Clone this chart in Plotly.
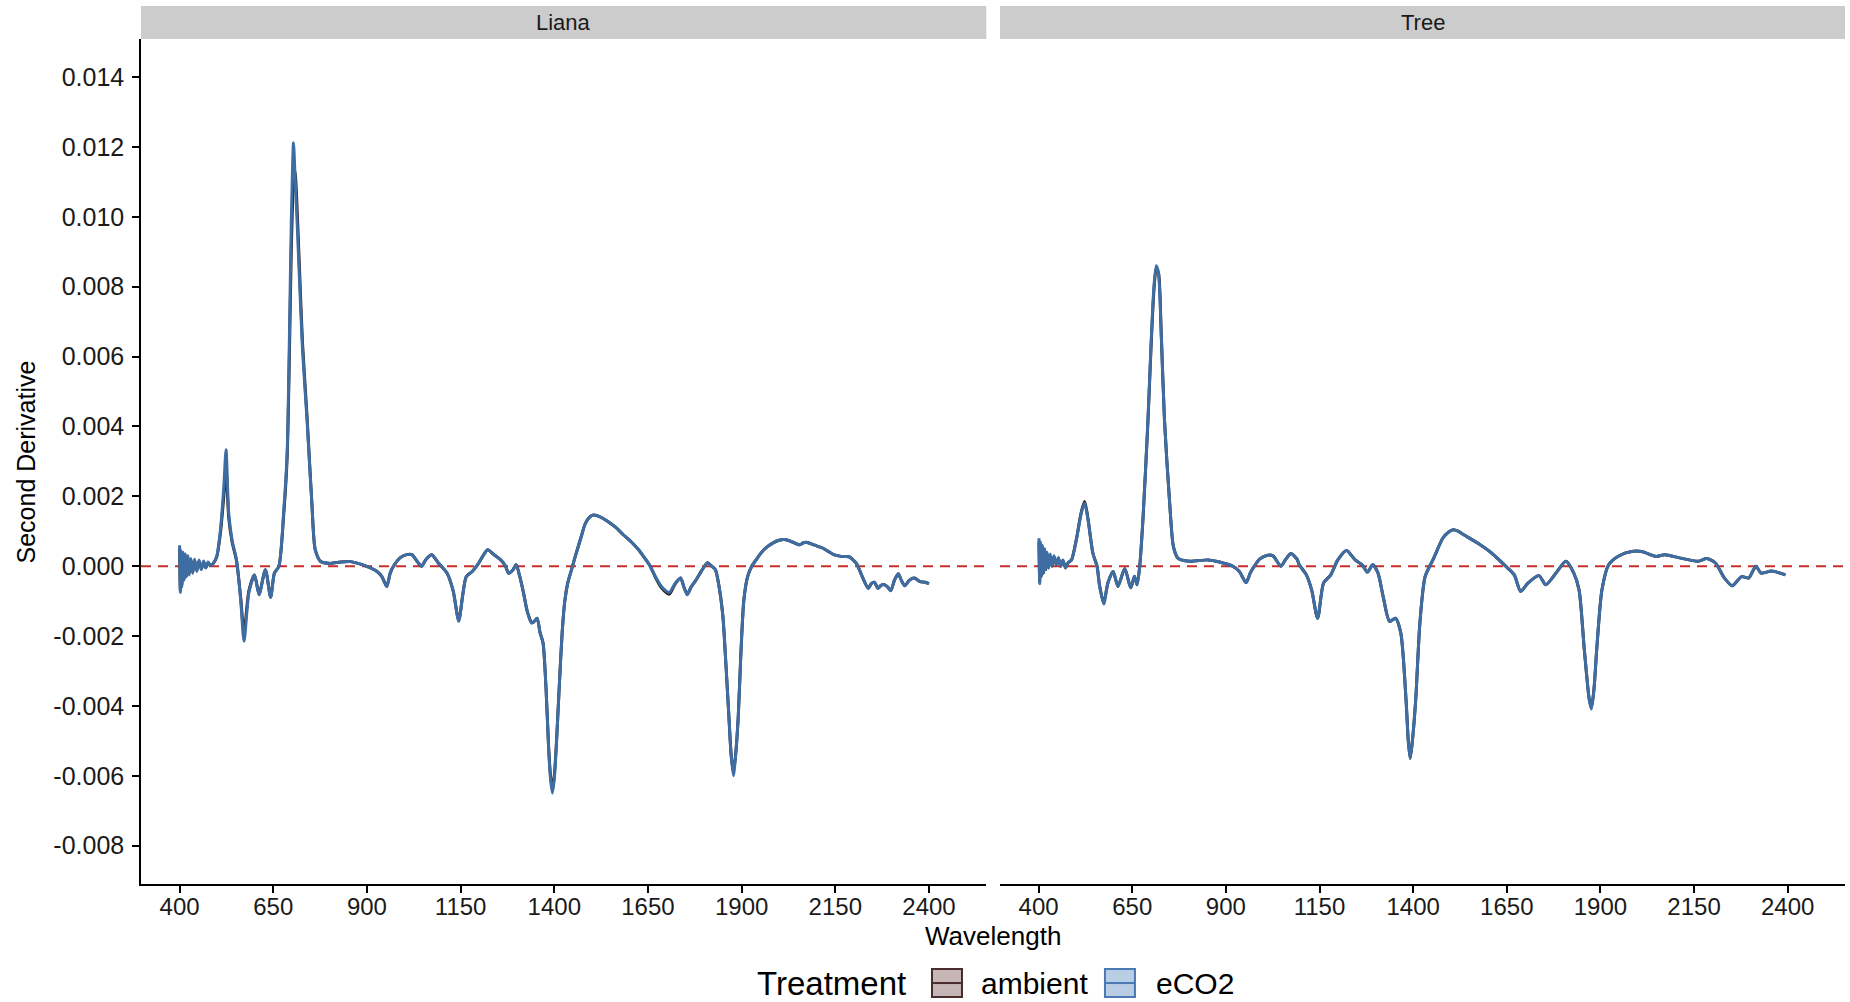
import plotly.graph_objects as go

# ---------------- data ----------------
liana_wl = [400, 402, 404, 406, 409, 412, 415, 418, 422, 426, 430, 435, 440, 446, 452, 458, 464, 470, 476, 482,
            490, 499, 509, 518, 524, 531, 540, 552, 563, 572, 585, 600, 612, 629, 643, 653, 665, 678, 687, 693,
            698, 704, 708, 713, 720, 728, 740, 753, 762, 776, 802, 830, 856, 891, 927, 940, 953, 962, 971, 990,
            1006, 1020, 1035, 1046, 1058, 1073, 1090, 1114, 1130, 1145, 1156, 1165, 1181, 1196, 1210, 1222, 1240, 1257, 1270, 1278,
            1290, 1298, 1308, 1318, 1328, 1339, 1345, 1354, 1362, 1370, 1378, 1385, 1390, 1395, 1400, 1405, 1413, 1421, 1428, 1436,
            1446, 1456, 1472, 1482, 1492, 1503, 1513, 1528, 1543, 1565, 1584, 1605, 1625, 1640, 1656, 1670, 1686, 1707, 1722, 1737,
            1746, 1755, 1765, 1778, 1795, 1809, 1820, 1830, 1840, 1850, 1858, 1866, 1872, 1878, 1884, 1891, 1898, 1906, 1916, 1927,
            1940, 1952, 1968, 1983, 2000, 2014, 2034, 2054, 2065, 2075, 2095, 2116, 2130, 2146, 2166, 2187, 2200, 2208, 2222, 2238,
            2246, 2254, 2264, 2272, 2281, 2290, 2298, 2308, 2318, 2326, 2335, 2348, 2361, 2376, 2390, 2400]

liana_eco2 = [0.0006, -0.00075, 0.00045, -0.0006, 0.0004, -0.0004, 0.00035, -0.0003, 0.0003, -0.00025, 0.00022, -0.0002, 0.0002, -0.00015, 0.00018, -0.0001, 0.00015, -0.00005, 0.00012, 0.00002,
              0.00008, 0.00028, 0.00104, 0.00228, 0.00333, 0.00153, 0.00075, 0.00017, -0.00096, -0.00215, -0.00076, -0.00025, -0.00082, -0.0001, -0.0009, -0.0002, 0.0, 0.0016, 0.00324, 0.0065,
              0.0098, 0.01212, 0.0112, 0.0100, 0.0082, 0.0062, 0.0042, 0.0018, 0.00047, 0.00014, 0.00008, 0.00012, 0.00013, 0.00003, -0.00015, -0.0003, -0.00058, -0.0002, 0.0, 0.00025,
              0.00033, 0.00033, 0.00012, 0.0, 0.0002, 0.00033, 0.0001, -0.0002, -0.0007, -0.00158, -0.0008, -0.0003, -0.00015, 0.00005, 0.0003, 0.00047, 0.00032, 0.00018, 0.0, -0.0002,
              -0.0001, 0.00005, -0.0003, -0.00077, -0.0013, -0.00163, -0.0016, -0.00149, -0.0019, -0.0022, -0.0035, -0.00525, -0.0061, -0.00649, -0.0061, -0.00525, -0.0035, -0.00191, -0.0010, -0.00048,
              -0.0001, 0.00028, 0.00085, 0.0012, 0.00138, 0.00146, 0.00145, 0.00138, 0.00128, 0.0011, 0.0009, 0.0007, 0.00047, 0.00025, 0.0, -0.0003, -0.00058, -0.00075, -0.0005, -0.00034,
              -0.0006, -0.00082, -0.0006, -0.0004, -0.0001, 0.0001, 0.0, -0.0001, -0.0006, -0.00144, -0.0028, -0.0043, -0.0054, -0.0060, -0.0054, -0.0043, -0.0025, -0.00096, -0.0003, 0.0,
              0.0002, 0.00038, 0.00055, 0.00066, 0.00074, 0.00076, 0.0007, 0.00061, 0.00067, 0.00068, 0.0006, 0.00052, 0.00043, 0.00033, 0.00028, 0.00027, 0.00015, 0.00005, -0.0003, -0.00063,
              -0.0005, -0.00046, -0.00063, -0.00055, -0.00053, -0.0006, -0.0007, -0.0004, -0.00022, -0.0004, -0.00056, -0.0004, -0.00034, -0.00044, -0.00046, -0.0005]

liana_ambient = [0.0005, -0.0007, 0.0004, -0.00055, 0.00035, -0.00035, 0.0003, -0.00028, 0.00025, -0.0002, 0.0002, -0.00018, 0.00017, -0.00012, 0.00015, -0.00008, 0.00012, -0.00004, 0.0001, 0.00002,
                 0.00008, 0.00026, 0.00095, 0.0020, 0.0028, 0.0014, 0.0007, 0.00015, -0.0009, -0.0019, -0.0007, -0.00025, -0.0008, -0.0001, -0.00088, -0.0002, 0.0, 0.0015, 0.0031, 0.0060,
                 0.0090, 0.0110, 0.0113, 0.0104, 0.0085, 0.0064, 0.0043, 0.0018, 0.00047, 0.00014, 0.00008, 0.00012, 0.00013, 0.00003, -0.00015, -0.0003, -0.00058, -0.0002, 0.0, 0.00025,
                 0.00033, 0.00033, 0.00012, 0.0, 0.0002, 0.00033, 0.0001, -0.0002, -0.0007, -0.00155, -0.0008, -0.0003, -0.00015, 0.00005, 0.0003, 0.00047, 0.00032, 0.00018, 0.0, -0.0002,
                 -0.0001, 0.00005, -0.0003, -0.00077, -0.0013, -0.0016, -0.0016, -0.00149, -0.0019, -0.0022, -0.0035, -0.0052, -0.0060, -0.0064, -0.0060, -0.0052, -0.0035, -0.0019, -0.0010, -0.00048,
                 -0.0001, 0.00028, 0.00085, 0.0012, 0.00138, 0.00146, 0.00145, 0.00138, 0.00128, 0.0011, 0.0009, 0.0007, 0.00047, 0.00025, 0.0, -0.00032, -0.00062, -0.0008, -0.00052, -0.00034,
                 -0.0006, -0.0008, -0.0006, -0.0004, -0.0001, 0.0001, 0.0, -0.0001, -0.0006, -0.00144, -0.0028, -0.0043, -0.0054, -0.0059, -0.0054, -0.0043, -0.0025, -0.00096, -0.0003, 0.0,
                 0.0002, 0.00038, 0.00055, 0.00066, 0.00074, 0.00076, 0.0007, 0.00061, 0.00067, 0.00068, 0.0006, 0.00052, 0.00043, 0.00033, 0.00028, 0.00027, 0.00015, 0.00005, -0.0003, -0.00063,
                 -0.0005, -0.00046, -0.00063, -0.00055, -0.00053, -0.0006, -0.0007, -0.0004, -0.00022, -0.0004, -0.00056, -0.0004, -0.00034, -0.00044, -0.00046, -0.0005]

tree_wl = [401, 403, 405, 407, 410, 413, 416, 419, 423, 427, 431, 436, 441, 447, 453, 459, 465, 472, 479, 488,
           501, 514, 523, 532, 545, 556, 563, 574, 585, 599, 612, 630, 646, 656, 663, 670, 679, 692, 700, 708,
           714, 720, 727, 736, 750, 760, 772, 803, 852, 883, 918, 936, 954, 965, 976, 990, 1007, 1025, 1047, 1060,
           1074, 1090, 1096, 1115, 1129, 1145, 1161, 1180, 1199, 1222, 1245, 1264, 1278, 1292, 1306, 1320, 1337, 1353, 1367, 1381,
           1387, 1392, 1398, 1407, 1418, 1432, 1455, 1479, 1495, 1507, 1520, 1535, 1572, 1610, 1647, 1670, 1687, 1707, 1736, 1754,
           1782, 1808, 1829, 1843, 1857, 1870, 1876, 1883, 1890, 1904, 1922, 1950, 1983, 2010, 2049, 2072, 2114, 2161, 2184, 2207,
           2231, 2252, 2277, 2296, 2315, 2329, 2357, 2394]

tree_eco2 = [0.0008, -0.0005, 0.0007, -0.0003, 0.0006, -0.0002, 0.0005, -0.0001, 0.0004, -0.00005, 0.00035, 0.0, 0.0003, 0.00005, 0.00025, 0.0, 0.00018, -0.00005, 0.0001, 0.00018,
             0.00076, 0.00152, 0.0018, 0.00133, 0.00037, 0.0, -0.00058, -0.00108, -0.00048, -0.00015, -0.00058, -0.00007, -0.00062, -0.00029, -0.00053, 0.0, 0.00142, 0.00419, 0.0063, 0.0080,
             0.0086, 0.0084, 0.0068, 0.0042, 0.0018, 0.00056, 0.00023, 0.00014, 0.00018, 0.00012, 0.0, -0.00015, -0.00047, -0.0002, 0.0, 0.0002, 0.0003, 0.0003, 0.0, 0.0002,
             0.00036, 0.0002, 0.00004, -0.00025, -0.00068, -0.00149, -0.00048, -0.00025, 0.00018, 0.00045, 0.00018, 0.00004, -0.00017, 0.00004, -0.00019, -0.00087, -0.00158, -0.00149, -0.00191, -0.00382,
             -0.0050, -0.0055, -0.0050, -0.0038, -0.00163, -0.0003, 0.00023, 0.0008, 0.00098, 0.00104, 0.001, 0.0009, 0.00066, 0.00037, 0.0, -0.00025, -0.00072, -0.00048, -0.00027, -0.00053,
             -0.00019, 0.00014, -0.0002, -0.00068, -0.00239, -0.0038, -0.00409, -0.0035, -0.0024, -0.00068, 0.00004, 0.0003, 0.00042, 0.00042, 0.00028, 0.00033, 0.00023, 0.00014, 0.00022, 0.00009,
             -0.00034, -0.00056, -0.0003, -0.00034, 0.0, -0.0002, -0.00014, -0.00025]

tree_ambient = [0.0007, -0.00045, 0.0006, -0.0003, 0.00055, -0.0002, 0.00045, -0.0001, 0.00035, -0.00005, 0.0003, 0.0, 0.00028, 0.00005, 0.00022, 0.0, 0.00016, -0.00005, 0.0001, 0.00018,
                0.00078, 0.00155, 0.00185, 0.00135, 0.00037, 0.0, -0.00056, -0.00105, -0.00048, -0.00015, -0.00058, -0.00007, -0.00062, -0.00029, -0.00053, 0.0, 0.0014, 0.00415, 0.0062, 0.0079,
                0.0085, 0.0084, 0.0068, 0.0042, 0.0018, 0.00056, 0.00023, 0.00014, 0.00018, 0.00012, 0.0, -0.00015, -0.00047, -0.0002, 0.0, 0.0002, 0.0003, 0.0003, 0.0, 0.0002,
                0.00036, 0.0002, 0.00004, -0.00025, -0.00068, -0.00149, -0.00048, -0.00025, 0.00018, 0.00045, 0.00018, 0.00004, -0.00017, 0.00004, -0.00019, -0.00087, -0.00158, -0.00149, -0.00191, -0.00382,
                -0.0050, -0.0055, -0.0050, -0.0038, -0.00163, -0.0003, 0.00023, 0.0008, 0.00098, 0.00104, 0.001, 0.0009, 0.00066, 0.00037, 0.0, -0.00025, -0.00072, -0.00048, -0.00027, -0.00053,
                -0.00019, 0.00014, -0.0002, -0.00068, -0.00239, -0.0038, -0.00405, -0.0035, -0.0024, -0.00068, 0.00004, 0.0003, 0.00042, 0.00042, 0.00028, 0.00033, 0.00023, 0.00014, 0.00022, 0.00009,
                -0.00034, -0.00056, -0.0003, -0.00034, 0.0, -0.0002, -0.00014, -0.00025]

panels = ["Liana", "Tree"]
treatments = ["ambient", "eCO2"]
x_tick_vals = [400, 650, 900, 1150, 1400, 1650, 1900, 2150, 2400]
x_tick_text = ["400", "650", "900", "1150", "1400", "1650", "1900", "2150", "2400"]
y_tick_vals = [0.014, 0.012, 0.010, 0.008, 0.006, 0.004, 0.002, 0.0, -0.002, -0.004, -0.006, -0.008]
y_tick_text = ["0.014", "0.012", "0.010", "0.008", "0.006", "0.004", "0.002", "0.000",
               "-0.002", "-0.004", "-0.006", "-0.008"]

# ---------------- styles ----------------
FONT = "Liberation Sans, Arial, sans-serif"
LINE_COL = {"ambient": "#2E2020", "eCO2": "#3D6DA3"}
KEY_FILL = {"ambient": "#C7B6B6", "eCO2": "#B9CDE6"}
KEY_LINE = {"ambient": "#4A2C2C", "eCO2": "#4A78B2"}

fig = go.Figure()

series = [
    ("x", "y", liana_wl, {"ambient": liana_ambient, "eCO2": liana_eco2}),
    ("x2", "y2", tree_wl, {"ambient": tree_ambient, "eCO2": tree_eco2}),
]
for xa, ya, wl, vals in series:
    for t in treatments:
        fig.add_trace(go.Scatter(x=wl, y=vals[t], mode="lines", name=t, showlegend=False,
                                 line=dict(color=LINE_COL[t], width=3, shape="spline", smoothing=0.7),
                                 xaxis=xa, yaxis=ya, hoverinfo="skip"))

LEFT_DOM = [0, 0.49607]
RIGHT_DOM = [0.50411, 1]
Y_DOM = [0, 0.96241]
X_RANGE = [297, 2553]
Y_RANGE = [-0.009096, 0.015087]

xaxis_common = dict(range=X_RANGE, tickvals=x_tick_vals, ticktext=x_tick_text, showline=True,
                    linecolor="black", linewidth=1.5, ticks="outside", ticklen=7, tickwidth=1.5,
                    tickcolor="black", showgrid=False, zeroline=False,
                    tickfont=dict(family=FONT, size=24, color="#1A1A1A"), ticklabelstandoff=-7)

fig.update_layout(
    width=1850, height=1002,
    margin=dict(l=141, r=5, t=6, b=118),
    paper_bgcolor="white", plot_bgcolor="white",
    showlegend=False,
    xaxis=dict(domain=LEFT_DOM, anchor="y", **xaxis_common),
    xaxis2=dict(domain=RIGHT_DOM, anchor="y2", **xaxis_common),
    yaxis=dict(domain=Y_DOM, anchor="x", range=Y_RANGE, tickvals=y_tick_vals, ticktext=y_tick_text,
               showline=True, linecolor="black", linewidth=1.5, ticks="outside", ticklen=7,
               tickwidth=1.5, tickcolor="black", showgrid=False, zeroline=False,
               tickfont=dict(family=FONT, size=25, color="#1A1A1A"), ticklabelstandoff=3),
    yaxis2=dict(domain=Y_DOM, anchor="x2", matches="y", range=Y_RANGE, showticklabels=False,
                showline=False, ticks="", showgrid=False, zeroline=False),
)

shapes = []
annotations = []
# zero reference lines
for xd, ya in [("x domain", "y"), ("x2 domain", "y2")]:
    shapes.append(dict(type="line", xref=xd, yref=ya, x0=0, x1=1, y0=0, y1=0,
                       line=dict(color="#C62F2A", width=2, dash="10px,7px"), layer="below"))
# facet strips
for dom, label in [(LEFT_DOM, panels[0]), (RIGHT_DOM, panels[1])]:
    shapes.append(dict(type="rect", xref="paper", yref="paper", x0=dom[0], x1=dom[1],
                       y0=Y_DOM[1], y1=1.0, fillcolor="#CCCCCC", line=dict(width=0), layer="below"))
    annotations.append(dict(text=label, xref="paper", yref="paper", x=(dom[0] + dom[1]) / 2,
                            y=(Y_DOM[1] + 1.0) / 2, showarrow=False, xanchor="center", yanchor="middle",
                            font=dict(family=FONT, size=22, color="#1A1A1A")))
# axis titles
annotations.append(dict(text="Wavelength", xref="paper", yref="paper", x=0.5, y=-0.0592,
                        showarrow=False, xanchor="center", yanchor="middle",
                        font=dict(family=FONT, size=26, color="black")))
annotations.append(dict(text="Second Derivative", xref="paper", yref="paper", x=-0.0675, y=0.4812,
                        textangle=-90, showarrow=False, xanchor="center", yanchor="middle",
                        font=dict(family=FONT, size=25, color="black")))

# legend (ggplot-style keys)
leg_y0, leg_y1, leg_mid = -0.0968, -0.1287, -0.1128
annotations.append(dict(text="Treatment", xref="paper", yref="paper", x=0.3603, y=leg_mid,
                        showarrow=False, xanchor="left", yanchor="middle",
                        font=dict(family=FONT, size=33, color="black")))
key_pos = {"ambient": (0.4642, 0.4818, 0.4918), "eCO2": (0.5657, 0.5833, 0.5945)}
for t in treatments:
    k0, k1, tx = key_pos[t]
    shapes.append(dict(type="rect", xref="paper", yref="paper", x0=k0, x1=k1, y0=leg_y1, y1=leg_y0,
                       fillcolor=KEY_FILL[t], line=dict(color=KEY_LINE[t], width=2)))
    shapes.append(dict(type="line", xref="paper", yref="paper", x0=k0, x1=k1, y0=leg_mid, y1=leg_mid,
                       line=dict(color=KEY_LINE[t], width=2)))
    annotations.append(dict(text=t, xref="paper", yref="paper", x=tx, y=leg_mid,
                            showarrow=False, xanchor="left", yanchor="middle",
                            font=dict(family=FONT, size=30, color="black")))

fig.update_layout(shapes=shapes, annotations=annotations)
fig.write_html("out.html")
